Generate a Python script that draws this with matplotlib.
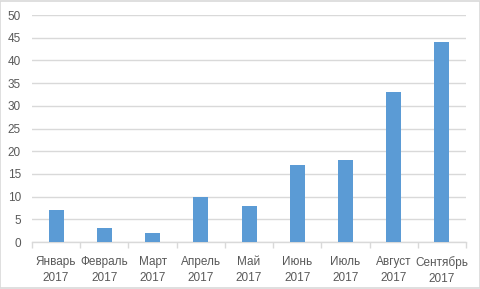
import matplotlib
matplotlib.use("Agg")
import matplotlib.pyplot as plt
import numpy as np

# данные
months = ["Январь\n2017", "Февраль\n2017", "Март\n2017", "Апрель\n2017", "Май\n2017",
          "Июнь\n2017", "Июль\n2017", "Август\n2017", "Сентябрь\n2017"]
values = [7, 3, 2, 10, 8, 17, 18, 33, 44]
yticks = [0, 5, 10, 15, 20, 25, 30, 35, 40, 45, 50]

plt.rcParams["font.family"] = ["Liberation Sans", "DejaVu Sans"]

fig = plt.figure(figsize=(4.81, 2.89), dpi=100)
fig.patches.append(plt.Rectangle((0.001, 0.002), 0.997, 0.995, transform=fig.transFigure,
                                 fill=False, edgecolor="#d9d9d9", linewidth=1.2))
ax = fig.add_axes([0.0665, 0.1626, 0.9025, 0.7854])

x = np.arange(len(values))
ax.bar(x, values, width=0.31, color="#5b9bd5", zorder=3)

ax.set_xlim(-0.5, len(values) - 0.5)
ax.set_ylim(0, 50)
ax.set_yticks(yticks)
ax.grid(axis="y", color="#d9d9d9", linewidth=1, zorder=0)

ax.set_xticks(x)
ax.set_xticklabels(months, fontsize=8.5, color="#595959", linespacing=1.45)
ax.set_xticks(np.arange(len(values) + 1) - 0.5, minor=True)
ax.tick_params(axis="x", which="major", length=0, pad=10)
ax.tick_params(axis="x", which="minor", length=4, color="#d9d9d9", width=1)
ax.tick_params(axis="y", length=0, labelsize=8.5, labelcolor="#595959", pad=8)

for s in ["top", "right", "left"]:
    ax.spines[s].set_visible(False)
ax.spines["bottom"].set_color("#d9d9d9")
ax.spines["bottom"].set_linewidth(1)

fig.savefig("out.png", dpi=100)
